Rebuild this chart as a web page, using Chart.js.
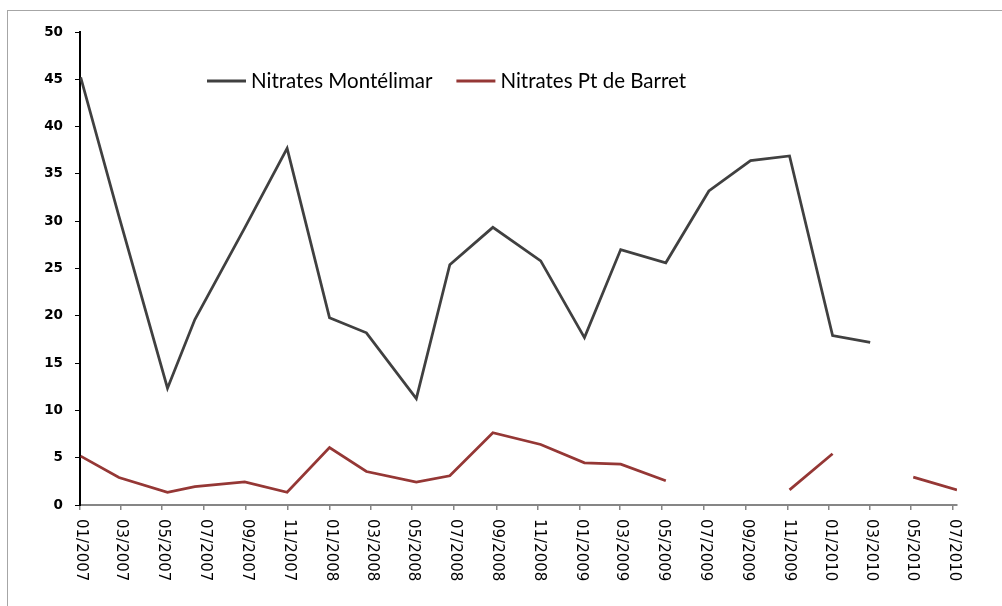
<!DOCTYPE html>
<html lang="fr">
<head>
<meta charset="UTF-8">
<title>Nitrates</title>
<script src="https://cdn.jsdelivr.net/npm/chart.js"></script>
<style>
  body { margin: 0; background: #fff; }
  #wrap { width: 1002px; height: 606px; }
</style>
</head>
<body>
<div id="wrap"><canvas id="nitrates"></canvas></div>
<script>
// sample dates (yyyy-mm-dd) and values, mg/l
const sampleDates = ['2007-01-02', '2007-02-27', '2007-05-09', '2007-06-18', '2007-08-30', '2007-10-31',
  '2008-01-01', '2008-02-24', '2008-05-07', '2008-06-25', '2008-08-27', '2008-11-05',
  '2009-01-08', '2009-03-02', '2009-05-07', '2009-07-09', '2009-09-08', '2009-11-04',
  '2010-01-06', '2010-03-02', '2010-05-04', '2010-07-07'];
const montelimar = [45.2, 30.5, 12.35, 19.6, 29.3, 37.7, 19.8, 18.2, 11.25, 25.4, 29.35, 25.8,
  17.7, 27.0, 25.6, 33.2, 36.4, 36.9, 17.9, 17.2, null, null];
const barret = [5.17, 2.91, 1.35, 1.95, 2.45, 1.35, 6.08, 3.54, 2.41, 3.09, 7.64, 6.4,
  4.46, 4.32, 2.56, null, null, 1.6, 5.42, null, 2.94, 1.6];
const tickLabels = ['01/2007', '03/2007', '05/2007', '07/2007', '09/2007', '11/2007',
  '01/2008', '03/2008', '05/2008', '07/2008', '09/2008', '11/2008',
  '01/2009', '03/2009', '05/2009', '07/2009', '09/2009', '11/2009',
  '01/2010', '03/2010', '05/2010', '07/2010'];
const seriesNames = ['Nitrates Montélimar', 'Nitrates Pt de Barret'];

const T0 = Date.UTC(2007, 0, 1);
function dayOf(s) {
  const p = s.split('-').map(Number);
  return (Date.UTC(p[0], p[1] - 1, p[2]) - T0) / 864e5;
}
function monthDay(lbl) {
  const p = lbl.split('/').map(Number);
  return (Date.UTC(p[1], p[0] - 1, 1) - T0) / 864e5;
}
const xs = sampleDates.map(dayOf);
const points = vals => vals.map((v, i) => ({ x: xs[i], y: v }));

// outer frame like the excel chart area
const frame = {
  id: 'frame',
  beforeDraw(chart) {
    const ctx = chart.ctx;
    ctx.save();
    ctx.fillStyle = '#fff';
    ctx.fillRect(0, 0, chart.width, chart.height);
    ctx.strokeStyle = '#a6a6a6';
    ctx.lineWidth = 1;
    ctx.strokeRect(7.5, 10.5, 1200, 800);
    ctx.restore();
  }
};

// x labels read downwards (rotated clockwise), chart.js only rotates the other way
const downLabels = {
  id: 'downLabels',
  afterDraw(chart) {
    const sc = chart.scales.x, ctx = chart.ctx;
    ctx.save();
    ctx.font = '15px "DejaVu Sans"';
    ctx.fillStyle = '#000';
    ctx.textAlign = 'left';
    ctx.textBaseline = 'middle';
    sc.ticks.forEach((t, i) => {
      const px = sc.getPixelForValue(t.value);
      ctx.save();
      ctx.translate(px + 1, sc.top + 14);
      ctx.rotate(Math.PI / 2);
      ctx.fillText(tickLabels[i], 0, 0);
      ctx.restore();
    });
    ctx.restore();
  }
};

// legend sits inside the plot area
const innerLegend = {
  id: 'innerLegend',
  afterDraw(chart) {
    const ctx = chart.ctx;
    let x = 207;
    const y = 81;
    ctx.save();
    ctx.font = '20.5px Lato';
    ctx.textBaseline = 'middle';
    chart.data.datasets.forEach(ds => {
      ctx.strokeStyle = ds.borderColor;
      ctx.lineWidth = 3;
      ctx.beginPath();
      ctx.moveTo(x, y);
      ctx.lineTo(x + 39, y);
      ctx.stroke();
      ctx.fillStyle = '#000';
      ctx.fillText(ds.label, x + 44, y);
      x += 44 + ctx.measureText(ds.label).width + 24;
    });
    ctx.restore();
  }
};

new Chart(document.getElementById('nitrates'), {
  type: 'line',
  data: {
    datasets: [{
      label: seriesNames[0],
      data: points(montelimar),
      borderColor: '#404040',
      backgroundColor: '#404040',
      borderWidth: 2.75,
      pointRadius: 0,
      tension: 0
    }, {
      label: seriesNames[1],
      data: points(barret),
      borderColor: '#953735',
      backgroundColor: '#953735',
      borderWidth: 2.75,
      pointRadius: 0,
      tension: 0
    }]
  },
  options: {
    responsive: true,
    maintainAspectRatio: false,
    animation: false,
    events: [],
    layout: { padding: { top: 32, right: 45, left: 0, bottom: 0 } },
    plugins: {
      legend: { display: false },
      tooltip: { enabled: false }
    },
    scales: {
      x: {
        type: 'linear',
        min: 0,
        max: xs[xs.length - 1],
        afterBuildTicks: s => { s.ticks = tickLabels.map(l => ({ value: monthDay(l) })); },
        afterFit: s => { s.height = 101; },
        ticks: {
          autoSkip: false,
          minRotation: 90,
          maxRotation: 90,
          color: 'rgba(0,0,0,0)',
          callback: (v, i) => tickLabels[i]
        },
        grid: { drawOnChartArea: false, tickLength: 5, color: '#868686', lineWidth: 1.5 },
        border: { display: true, color: '#868686', width: 2 }
      },
      y: {
        min: 0,
        max: 50,
        afterFit: s => { s.width = 80; },
        ticks: {
          stepSize: 5,
          padding: 12,
          color: '#000',
          font: { family: '"DejaVu Sans"', size: 13.5, weight: 'bold' }
        },
        grid: { drawOnChartArea: false, tickLength: 5, color: '#000' },
        border: { display: true, color: '#000', width: 2 }
      }
    }
  },
  plugins: [frame, downLabels, innerLegend]
});
</script>
</body>
</html>
